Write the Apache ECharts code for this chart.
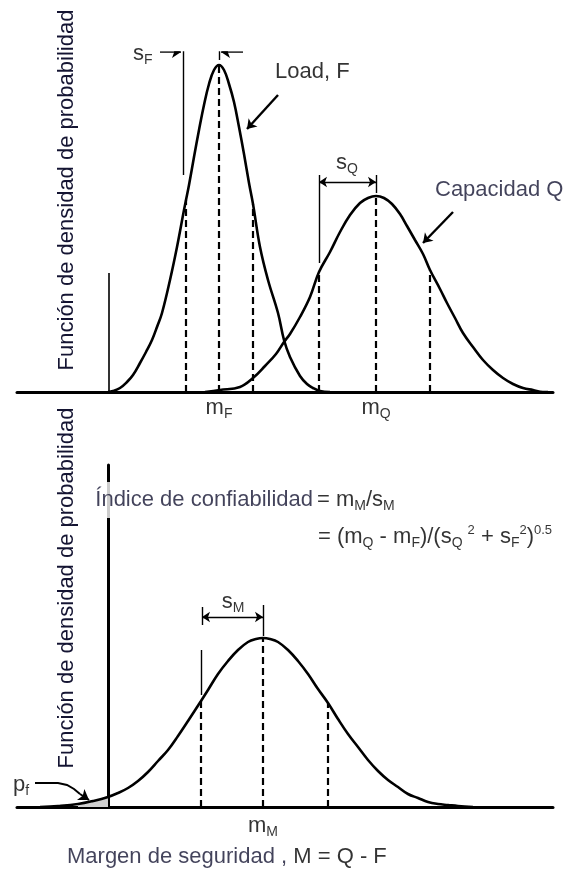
<!DOCTYPE html>
<html>
<head>
<meta charset="utf-8">
<script src="https://cdn.jsdelivr.net/npm/echarts@6/dist/echarts.min.js"></script>
<style>
  html, body { margin: 0; padding: 0; background: #fff; }
  #chart { width: 569px; height: 871px; }
</style>
</head>
<body>
<div id="chart"></div>
<script>
// Horizontal scale: load / capacity / margin, with 0 on the reference line.
// Vertical scale: probability density (arbitrary units).

// Load F density curve
const loadDensity = [
  [0,0],[5,1],[12,4],[19,10],[25,17],[32,29],[38,40],[44,52],[49,65],[54,79],
  [62,112],[69,145],[76,182],[78,192],[81,207],[86,235],[91,262],[96,287],[101,308],
  [106,322],[111,327],[116,322],[121,308],[126,290],[131,265],[136,238],[141,209],
  [145,188],[152,145],[160,112],[170,79],[176,52],[182,35],[192,16],[199,8],
  [205,4],[212,1],[222,0]
];

// Capacity Q density curve
const capacityDensity = [
  [97,0],[112,2],[132,5],[145,14],[157,26],[168,38],[176,50],[182,58],[192,75],
  [202,95],[211,120],[222,140],[232,160],[242,177],[252,189],[260,194],[268,196],
  [276,194],[284,188],[292,178],[299,166],[307,152],[315,138],[322,122],[332,103],
  [339,89],[347,74],[355,59],[365,45],[375,32],[385,22],[395,14],[405,8],[415,4],
  [425,2],[435,0],[440,0]
];

// Safety margin M = Q - F density curve
const marginDensity = [
  [-68,0],[-50,1],[-30,3],[-15,6],[0,10],[10,14],[20,19],[30,26],[40,35],[50,46],
  [60,57],[70,71],[80,86],[93,106],[100,117],[110,133],[120,146],[130,157],
  [140,165],[148,168],[155,169],[162,168],[170,165],[180,157],[190,146],[200,133],
  [210,118],[220,104],[230,88],[240,73],[250,60],[260,47],[270,36],[280,27],
  [290,20],[300,13],[310,9],[320,5],[330,3],[340,2],[350,1],[365,0]
];

// mean - s, mean, mean + s positions with the curve height there
const loadSigmaMarks = [[78,192],[111,327],[145,188]];
const capacitySigmaMarks = [[211,120],[268,196],[322,122]];
const marginSigmaMarks = [[93,106],[155,169],[220,104]];

// Failure region (M < 0)
const failureLimit = 0;

const NAVY = '#141432';
const FONT = "'Liberation Sans', Arial, Helvetica, sans-serif";

function vlines(marks) {
  return marks.map(m => ({ coords: [[m[0], 0], [m[0], m[1]]] }));
}
function note(x, y, text, align, extra) {
  return {
    value: [x, y],
    label: Object.assign({ formatter: text, align: align || 'center' }, extra || {})
  };
}
const richStyles = {
  n:   { fontSize: 22, lineHeight: 26, color: '#000', fontFamily: FONT },
  t:   { fontSize: 22, lineHeight: 26, color: NAVY, fontFamily: FONT },
  sub: { fontSize: 14, lineHeight: 12, verticalAlign: 'bottom', color: '#000', fontFamily: FONT },
  sup: { fontSize: 13, lineHeight: 14, verticalAlign: 'top', color: '#000', fontFamily: FONT },
  supg: { fontSize: 13, lineHeight: 14, verticalAlign: 'top', color: '#000', fontFamily: FONT,
          padding: [0, 0, 0, 5] }
};
function labelSeries(gridIdx, data) {
  return {
    type: 'scatter', xAxisIndex: gridIdx, yAxisIndex: gridIdx,
    symbol: 'circle', symbolSize: 1, clip: false, silent: true,
    itemStyle: { color: 'rgba(0,0,0,0)' },
    label: {
      show: true, position: 'inside', verticalAlign: 'middle', textBorderWidth: 0,
      fontFamily: FONT, fontSize: 22, color: '#000', rich: richStyles
    },
    data: data
  };
}

const curveStyle = { color: '#000', width: 2.6 };
const dashStyle = { color: '#000', width: 2.2, type: [7, 4], opacity: 1 };
const thinStyle = { color: '#000', width: 1.4, opacity: 1 };

const xAxisBase = {
  type: 'value', min: -91, max: 445,
  axisLine: { show: true, onZero: true, lineStyle: { color: '#000', width: 3 } },
  axisTick: { show: false }, axisLabel: { show: false }, splitLine: { show: false }
};

const option = {
  animation: false,
  backgroundColor: '#fff',
  grid: [
    { left: 17, right: 16, top: 52, bottom: 479 },
    { left: 17, right: 16, top: 465, bottom: 64 }
  ],
  xAxis: [
    Object.assign({ gridIndex: 0 }, xAxisBase),
    Object.assign({ gridIndex: 1 }, xAxisBase)
  ],
  yAxis: [
    { gridIndex: 0, type: 'value', min: 0, max: 340, axisLine: { show: false },
      axisTick: { show: false }, axisLabel: { show: false }, splitLine: { show: false } },
    { gridIndex: 1, type: 'value', min: 0, max: 342,
      axisLine: { show: true, onZero: true, lineStyle: { color: '#000', width: 3 } },
      axisTick: { show: false }, axisLabel: { show: false }, splitLine: { show: false } }
  ],
  graphic: [
    { type: 'text', x: 67, y: 190, rotation: Math.PI / 2,
      style: { text: 'Función de densidad de probabilidad', fontSize: 22, fontFamily: FONT,
               fill: NAVY, align: 'center', verticalAlign: 'middle' } },
    { type: 'text', x: 67, y: 588, rotation: Math.PI / 2,
      style: { text: 'Función de densidad de probabilidad', fontSize: 22, fontFamily: FONT,
               fill: NAVY, align: 'center', verticalAlign: 'middle' } }
  ],
  series: [
    // ---------- upper panel ----------
    { type: 'line', xAxisIndex: 0, yAxisIndex: 0, data: loadDensity, smooth: 0.4,
      showSymbol: false, silent: true, lineStyle: curveStyle, z: 3 },
    { type: 'line', xAxisIndex: 0, yAxisIndex: 0, data: capacityDensity, smooth: 0.4,
      showSymbol: false, silent: true, lineStyle: curveStyle, z: 3 },
    { type: 'lines', coordinateSystem: 'cartesian2d', xAxisIndex: 0, yAxisIndex: 0,
      silent: true, lineStyle: dashStyle,
      data: vlines(loadSigmaMarks).concat(vlines(capacitySigmaMarks)) },
    // reference line, s_F and s_Q brackets
    { type: 'lines', coordinateSystem: 'cartesian2d', xAxisIndex: 0, yAxisIndex: 0,
      silent: true, lineStyle: thinStyle,
      data: [
        { coords: [[1, 0], [1, 119]], lineStyle: { color: '#333', width: 2 } },
        { coords: [[75, 217], [75, 347]] },
        { coords: [[111, 332], [111, 347]] },
        { coords: [[211, 129], [211, 217]] },
        { coords: [[268, 199], [268, 217]] }
      ] },
    // single-headed arrows
    { type: 'lines', coordinateSystem: 'cartesian2d', xAxisIndex: 0, yAxisIndex: 0,
      silent: true, symbol: ['none', 'arrow'], symbolSize: 9,
      lineStyle: { color: '#000', width: 1.6, opacity: 1 },
      data: [
        { coords: [[52, 340], [73, 340]] },
        { coords: [[135, 340], [113, 340]] },
        { coords: [[170, 297], [139, 263]], lineStyle: { width: 2.4 } },
        { coords: [[345, 180], [315, 149]], lineStyle: { width: 2.4 } }
      ] },
    // s_Q double arrow
    { type: 'lines', coordinateSystem: 'cartesian2d', xAxisIndex: 0, yAxisIndex: 0,
      silent: true, symbol: ['arrow', 'arrow'], symbolSize: 8,
      lineStyle: { color: '#000', width: 1.4, opacity: 1 },
      data: [{ coords: [[211, 210], [268, 210]] }] },
    labelSeries(0, [
      note(25, 338, '{n|s}{sub|F}', 'left'),
      note(167, 320, 'Load, F', 'left', { color: '#000' }),
      note(239, 229, '{n|s}{sub|Q}', 'center'),
      note(327, 202, '{t|Capacidad Q}', 'left'),
      note(111, -16, '{n|m}{sub|F}', 'center'),
      note(268, -16, '{n|m}{sub|Q}', 'center')
    ]),

    // ---------- lower panel ----------
    { type: 'line', xAxisIndex: 1, yAxisIndex: 1,
      data: marginDensity.filter(p => p[0] <= failureLimit && p[0] >= -35),
      showSymbol: false, silent: true, lineStyle: { width: 0 },
      areaStyle: { color: '#d2d2d2', opacity: 1 }, z: 1 },
    { type: 'line', xAxisIndex: 1, yAxisIndex: 1, data: marginDensity, smooth: 0.4,
      showSymbol: false, silent: true, lineStyle: curveStyle, z: 3 },
    { type: 'lines', coordinateSystem: 'cartesian2d', xAxisIndex: 1, yAxisIndex: 1,
      silent: true, lineStyle: dashStyle, data: vlines(marginSigmaMarks) },
    { type: 'lines', coordinateSystem: 'cartesian2d', xAxisIndex: 1, yAxisIndex: 1,
      silent: true, lineStyle: thinStyle,
      data: [
        { coords: [[94, 182], [94, 200]] },
        { coords: [[93, 112], [93, 157]] },
        { coords: [[155, 171], [155, 202]] }
      ] },
    { type: 'lines', coordinateSystem: 'cartesian2d', xAxisIndex: 1, yAxisIndex: 1,
      silent: true, symbol: ['arrow', 'arrow'], symbolSize: 8,
      lineStyle: { color: '#000', width: 1.4, opacity: 1 },
      data: [{ coords: [[94, 190], [155, 190]] }] },
    // p_f pointer: bent shaft, then the head
    { type: 'lines', coordinateSystem: 'cartesian2d', xAxisIndex: 1, yAxisIndex: 1,
      silent: true, polyline: true,
      lineStyle: { color: '#000', width: 2, opacity: 1 }, z: 4,
      data: [{ coords: [[-73, 24], [-50, 24], [-41, 22], [-34, 18], [-28, 13]] }] },
    { type: 'lines', coordinateSystem: 'cartesian2d', xAxisIndex: 1, yAxisIndex: 1,
      silent: true, symbol: ['none', 'arrow'], symbolSize: 10, z: 4,
      lineStyle: { color: '#000', width: 2, opacity: 1 },
      data: [{ coords: [[-28, 13], [-19, 7]] }] },
    labelSeries(1, [
      note(205, 307, '{t|Índice de confiabilidad}', 'right',
           { backgroundColor: '#fff', padding: [5, 0, 5, 0] }),
      note(209, 307, '{n|= m}{sub|M}{n|/s}{sub|M}', 'left'),
      note(210, 270, '{n|= (m}{sub|Q}{n| - m}{sub|F}{n|)/(s}{sub|Q}{supg|2}{n| + s}{sub|F}{sup|2}{n|)}{sup|0.5}', 'left'),
      note(125, 205, '{n|s}{sub|M}', 'center'),
      note(-95, 22, '{n|p}{sub|f}', 'left'),
      note(155, -19, '{n|m}{sub|M}', 'center'),
      note(-41, -50, '{t|Margen de seguridad ,} {n|M = Q - F}', 'left')
    ])
  ]
};

const chart = echarts.init(document.getElementById('chart'), null, { renderer: 'canvas' });
chart.setOption(option);
</script>
</body>
</html>
